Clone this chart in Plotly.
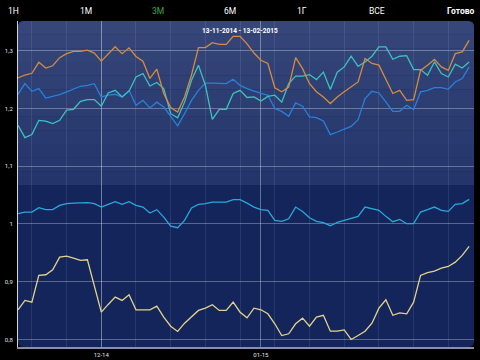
import plotly.graph_objects as go

# ---- data (index = trading day from 13-11-2014 to 13-02-2015) ----
orange = [1.253, 1.258, 1.261, 1.280, 1.270, 1.274, 1.288, 1.295, 1.299, 1.299,
          1.301, 1.296, 1.282, 1.294, 1.307, 1.295, 1.305, 1.290, 1.282, 1.252,
          1.268, 1.226, 1.2015, 1.194, 1.220, 1.258, 1.3055, 1.3055, 1.314, 1.311,
          1.311, 1.325, 1.325, 1.312, 1.296, 1.2835, 1.278, 1.236, 1.229, 1.237,
          1.288, 1.269, 1.243, 1.229, 1.220, 1.2085, 1.220, 1.229, 1.237, 1.246,
          1.2865, 1.278, 1.275, 1.249, 1.226, 1.2315, 1.214, 1.2155, 1.266, 1.275,
          1.285, 1.272, 1.266, 1.295, 1.298, 1.318]
teal = [1.171, 1.1496, 1.155, 1.1795, 1.178, 1.174, 1.1795, 1.197, 1.1986, 1.2125,
        1.2154, 1.2154, 1.204, 1.227, 1.2315, 1.220, 1.230, 1.2546, 1.2605, 1.239,
        1.245, 1.2345, 1.191, 1.184, 1.211, 1.249, 1.275, 1.240, 1.181, 1.1986,
        1.1986, 1.226, 1.2315, 1.219, 1.220, 1.213, 1.221, 1.223, 1.211, 1.243,
        1.256, 1.256, 1.2587, 1.250, 1.263, 1.233, 1.263, 1.272, 1.2905, 1.273,
        1.2806, 1.2905, 1.3066, 1.3066, 1.2853, 1.2905, 1.2916, 1.2674, 1.2674, 1.2575,
        1.2806, 1.2605, 1.2546, 1.2766, 1.270, 1.2806]
blue = [1.2246, 1.243, 1.2298, 1.2345, 1.218, 1.221, 1.224, 1.2287, 1.2333, 1.2385,
        1.240, 1.243, 1.220, 1.223, 1.2246, 1.220, 1.2315, 1.2055, 1.214, 1.201,
        1.211, 1.2026, 1.1865, 1.170, 1.191, 1.214, 1.2315, 1.244, 1.244, 1.243,
        1.243, 1.2506, 1.240, 1.2345, 1.230, 1.226, 1.223, 1.200, 1.195, 1.1865,
        1.2096, 1.204, 1.1853, 1.1842, 1.1784, 1.1548, 1.1593, 1.164, 1.169, 1.1807,
        1.2171, 1.2298, 1.2269, 1.2113, 1.1951, 1.1951, 1.2055, 1.198, 1.2287, 1.2315,
        1.2362, 1.2362, 1.2333, 1.246, 1.2518, 1.272]
cyan = [1.0178, 1.0207, 1.0207, 1.0282, 1.0248, 1.0248, 1.0322, 1.0352, 1.0362, 1.0362,
        1.0369, 1.0352, 1.0293, 1.034, 1.0386, 1.034, 1.0386, 1.0322, 1.0293, 1.019,
        1.0248, 1.012, 0.9964, 0.9936, 1.0062, 1.0276, 1.034, 1.0352, 1.038, 1.038,
        1.038, 1.0421, 1.0421, 1.0362, 1.0293, 1.0248, 1.0236, 1.0062, 1.0045, 1.0091,
        1.0293, 1.0218, 1.0109, 1.0045, 1.0022, 0.997, 1.0028, 1.0062, 1.0091, 1.0132,
        1.0293, 1.0259, 1.0236, 1.0132, 1.004, 1.008, 1.0005, 1.0005, 1.0207, 1.0248,
        1.0293, 1.0236, 1.0218, 1.034, 1.0352, 1.0426]
yellow = [0.8514, 0.8676, 0.8647, 0.9109, 0.9121, 0.9208, 0.9427, 0.9444, 0.9409, 0.9369,
          0.9381, 0.8936, 0.8473, 0.8607, 0.8733, 0.8676, 0.8775, 0.8514, 0.8514, 0.8514,
          0.8578, 0.8387, 0.823, 0.8139, 0.8283, 0.8387, 0.8503, 0.8543, 0.8601, 0.8503,
          0.8503, 0.8647, 0.8473, 0.8376, 0.8543, 0.8514, 0.8445, 0.8272, 0.8069, 0.8099,
          0.8272, 0.8369, 0.823, 0.8387, 0.8419, 0.8144, 0.8144, 0.8167, 0.800, 0.8069,
          0.8144, 0.8283, 0.8543, 0.8688, 0.8419, 0.8462, 0.8445, 0.8647, 0.9109, 0.9156,
          0.9184, 0.9236, 0.9265, 0.934, 0.9456, 0.9612]

x_idx = list(range(len(orange)))
y_tickvals = [0.8, 0.9, 1.0, 1.1, 1.2, 1.3]
y_ticktext = ["0,8", "0,9", "1", "1,1", "1,2", "1,3"]
x_tickvals = [12, 35]
x_ticktext = ["12-14", "01-15"]
title_text = "13-11-2014 - 13-02-2015"
buttons = ["1Н", "1М", "3М", "6М", "1Г", "ВСЕ", "Готово"]

W, H = 480, 360
L, R, T, B = 18, 6, 21, 13
PW, PH = W - L - R, H - T - B

def px(x):
    return (x - L) / PW

def py(y):
    return (H - B - y) / PH

FONT = "Roboto, Liberation Sans, sans-serif"

fig = go.Figure()
series = [
    (yellow, "#e3d38a"),
    (cyan, "#2aa8da"),
    (blue, "#2a7fdc"),
    (teal, "#3cc3c0"),
    (orange, "#d68b3e"),
]
for vals, col in series:
    fig.add_trace(go.Scatter(x=x_idx, y=vals, mode="lines",
                             line=dict(color=col, width=1.3), hoverinfo="skip"))

# background panel with rounded corners + gradient in top half
shapes = []
r = 6
rx, ry = r / PW, r / PH
def rounded(x0, y0, x1, y1, color):
    path = (f"M {x0+rx},{y0} L {x1-rx},{y0} Q {x1},{y0} {x1},{y0+ry} "
            f"L {x1},{y1-ry} Q {x1},{y1} {x1-rx},{y1} L {x0+rx},{y1} "
            f"Q {x0},{y1} {x0},{y1-ry} L {x0},{y0+ry} Q {x0},{y0} {x0+rx},{y0} Z")
    return dict(type="path", xref="paper", yref="paper", path=path,
                fillcolor=color, line=dict(width=0), layer="below")

shapes.append(rounded(0.0, 0.0, 1.0, 1.0, "#13255b"))
top_c = (0x37, 0x47, 0x7a)
mid_c = (0x23, 0x35, 0x6b)
n = 12
split = 0.497
for k in range(n):
    y0 = split + (1 - split) * k / n
    y1 = split + (1 - split) * (k + 1) / n
    t = (k + 0.5) / n
    c = tuple(int(mid_c[i] + (top_c[i] - mid_c[i]) * t) for i in range(3))
    colr = "#%02x%02x%02x" % c
    if k == n - 1:
        path = (f"M 0,{y0} L 1,{y0} L 1,{1-ry} Q 1,1 {1-rx},1 L {rx},1 Q 0,1 0,{1-ry} Z")
        shapes.append(dict(type="path", xref="paper", yref="paper", path=path,
                           fillcolor=colr, line=dict(width=0), layer="below"))
    else:
        shapes.append(dict(type="rect", xref="paper", yref="paper", x0=0, x1=1,
                           y0=y0, y1=y1, fillcolor=colr, line=dict(width=0), layer="below"))

annotations = []
btn_x = [13, 86, 158, 230, 302, 377, 477]
for name, bx in zip(buttons, btn_x):
    last = name == "Готово"
    annotations.append(dict(
        text=("<b>%s</b>" % name) if last else name,
        xref="paper", yref="paper", x=px(bx), y=py(11),
        showarrow=False, xanchor="right" if last else "center", yanchor="middle",
        font=dict(size=8.5, color="#3aa84a" if name == "3М" else "#ffffff",
                  family=FONT)))
annotations.append(dict(text="<b>%s</b>" % title_text, xref="paper", yref="paper",
                        x=px(240), y=py(31), showarrow=False,
                        xanchor="center", yanchor="middle",
                        font=dict(size=6.5, color="#ffffff", family=FONT)))

fig.update_layout(
    width=W, height=H,
    margin=dict(l=L, r=R, t=T, b=B, pad=0, autoexpand=False),
    paper_bgcolor="#000000", plot_bgcolor="rgba(0,0,0,0)",
    showlegend=False,
    shapes=shapes, annotations=annotations,
    xaxis=dict(range=[0, 65.7], tickvals=x_tickvals, ticktext=x_ticktext,
               automargin=False,
               showgrid=True, gridcolor="rgba(255,255,255,0.35)", gridwidth=1,
               minor=dict(tick0=2, dtick=5, showgrid=True,
                          gridcolor="rgba(255,255,255,0.09)", gridwidth=1),
               zeroline=False, showline=True, linecolor="#8a90a0", linewidth=1.5,
               ticks="", tickfont=dict(size=6, color="#e0e0e0", family=FONT),
               ticklabelstandoff=1),
    yaxis=dict(range=[0.787, 1.3515], tickvals=y_tickvals, ticktext=y_ticktext,
               automargin=False,
               showgrid=True, gridcolor="rgba(255,255,255,0.3)", gridwidth=1,
               zeroline=False, showline=True, linecolor="#d0d4dc", linewidth=1,
               ticks="", tickfont=dict(size=6, color="#e0e0e0", family=FONT),
               ticklabelstandoff=3),
)

fig.write_html("out.html",
               config={"displayModeBar": False},
               post_script="document.body.style.margin='0';document.body.style.background='#000';")
